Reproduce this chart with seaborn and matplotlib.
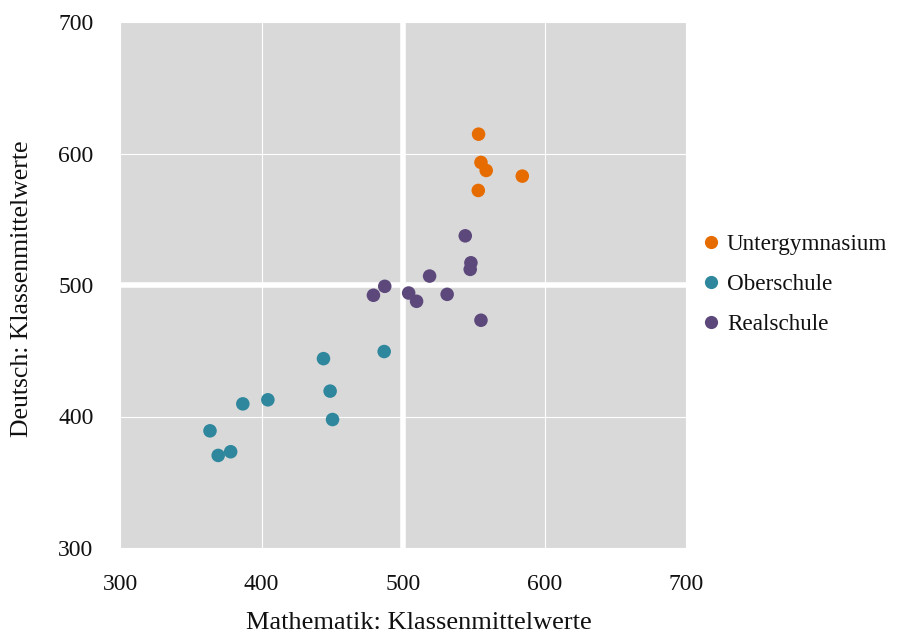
import matplotlib
matplotlib.use("Agg")
import matplotlib.pyplot as plt
import seaborn as sns
import pandas as pd

gruppen = ["Untergymnasium", "Oberschule", "Realschule"]

ug_mathe = [553.4, 555.1, 558.8, 584.3, 553.2]
ug_deutsch = [614.7, 593.2, 587.1, 582.8, 571.9]

os_mathe = [486.7, 443.8, 448.5, 450.2, 404.5, 386.8, 363.6, 378.2, 369.4]
os_deutsch = [449.4, 444.0, 419.3, 397.7, 412.7, 409.6, 389.1, 373.2, 370.4]

rs_mathe = [544.0, 548.0, 547.5, 518.8, 487.1, 479.1, 504.0, 509.6, 531.2, 555.1]
rs_deutsch = [537.4, 516.9, 511.9, 506.8, 499.0, 492.2, 493.9, 487.6, 492.9, 473.2]

farben = ["#E66C00", "#2E879D", "#5D487C"]

df = pd.DataFrame({
    "Mathe": ug_mathe + os_mathe + rs_mathe,
    "Deutsch": ug_deutsch + os_deutsch + rs_deutsch,
    "Schule": [gruppen[0]] * len(ug_mathe) + [gruppen[1]] * len(os_mathe) + [gruppen[2]] * len(rs_mathe),
})

sns.set_theme(style="darkgrid")
plt.rcParams["font.family"] = ["Liberation Serif", "DejaVu Serif"]

fig = plt.figure(figsize=(9.17, 6.37), dpi=100)
ax = fig.add_axes([120 / 917, 1 - 548 / 637, 566 / 917, 526 / 637])
ax.set_facecolor("#D9D9D9")

ax.set_xlim(300, 700)
ax.set_ylim(300, 700)
ax.set_xticks([300, 400, 500, 600, 700])
ax.set_yticks([300, 400, 500, 600, 700])
ax.grid(True, color="white", linewidth=0.8)
ax.axvline(500, color="white", linewidth=4, zorder=1)
ax.axhline(500, color="white", linewidth=4, zorder=1)
ax.set_axisbelow(True)

sns.scatterplot(data=df, x="Mathe", y="Deutsch", hue="Schule", hue_order=gruppen,
                palette=farben, s=95, linewidth=0, alpha=1, ax=ax, zorder=3)

for sp in ax.spines.values():
    sp.set_visible(False)

ax.tick_params(axis="both", length=0, labelsize=17, colors="#111111")
ax.tick_params(axis="x", pad=19)
ax.tick_params(axis="y", pad=19)
ax.set_xlabel("Mathematik: Klassenmittelwerte", fontsize=19, color="#111111")
ax.set_ylabel("Deutsch: Klassenmittelwerte", fontsize=18.5, color="#111111")
ax.xaxis.set_label_coords((419 - 120) / 566, (548 - 623) / 526)
ax.xaxis.label.set_verticalalignment("center")
ax.yaxis.set_label_coords((22 - 120) / 566, (548 - 289) / 526)
ax.yaxis.label.set_verticalalignment("center")

handles, labels = ax.get_legend_handles_labels()
for h in handles:
    h.set_markersize(9.5)
leg = ax.legend(handles, labels, loc="center left", bbox_to_anchor=(692.5 / 917, 1 - 284.5 / 637),
                bbox_transform=fig.transFigure, frameon=False, fontsize=16.7,
                handletextpad=0.29, labelspacing=0.8, handlelength=0.8, borderaxespad=0)
for t in leg.get_texts():
    t.set_color("#111111")

fig.savefig("out.png", dpi=100)
